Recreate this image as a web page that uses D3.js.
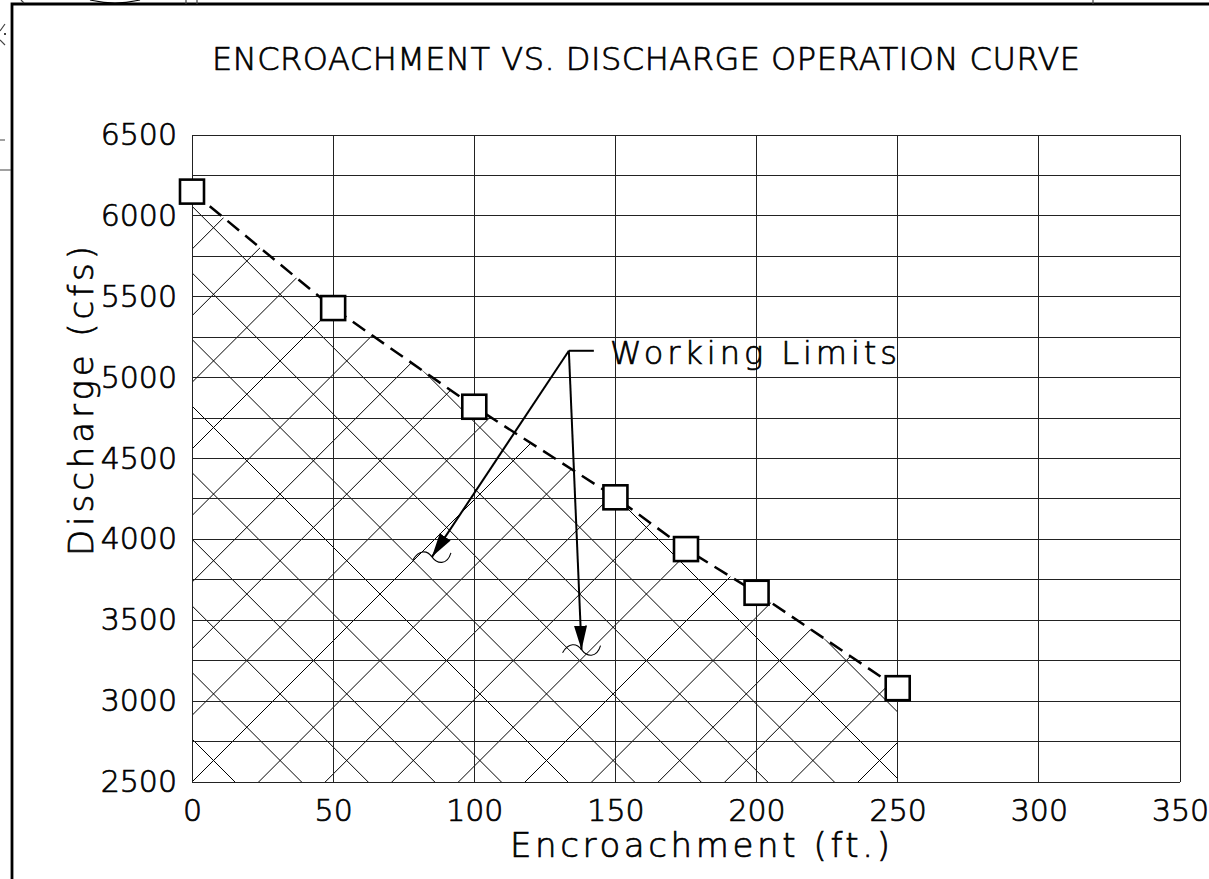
<!DOCTYPE html>
<html>
<head>
<meta charset="utf-8">
<script src="https://cdn.jsdelivr.net/npm/d3@7"></script>
<style>
  body { margin: 0; background: #fff; }
  svg { display: block; }
  text { font-family: "DejaVu Sans", "Liberation Sans", sans-serif; font-weight: 200; fill: #000; stroke: #000; stroke-width: 0.7px; }
</style>
</head>
<body>
<script>
// Encroachment vs discharge operation curve (CAD style sheet)

// data
var encroachment = [0, 50, 100, 150, 175, 200, 250];
var discharge = [6150, 5430, 4820, 4260, 3940, 3670, 3080];

// tick values
var xTicks = [0, 50, 100, 150, 200, 250, 300, 350];
var yTicks = [2500, 3000, 3500, 4000, 4500, 5000, 5500, 6000, 6500];
var yGridLines = d3.range(2500, 6501, 250);

// "Working Limits" callout: elbow point and the two arrow tips (ft, cfs)
var calloutElbow = [133.5, 5166];
var calloutTips = [[85, 3892], [138, 3318]];

var width = 1209;
var height = 879;

var svg = d3.select("body").append("svg")
            .attr("width", width)
            .attr("height", height);

// plot box
var x = d3.scaleLinear().domain([0, 350]).range([192, 1180]);
var y = d3.scaleLinear().domain([2500, 6500]).range([782, 135]);

var points = encroachment.map(function(e, i){ return {x: e, y: discharge[i]}; });

//sheet border and the bits of the neighbouring drawing that poke in
var frame = svg.append("g").attr("fill", "none").attr("stroke", "#000");
frame.append("path").attr("d", "M12,879V4H1209").attr("stroke-width", 2.8);
frame.append("path").attr("d", "M186,0V4M197,0V4M1093,0V4M21,0L24,3").attr("stroke-width", 1.2).attr("stroke", "#444");
frame.append("path").attr("d", "M90,0Q115,6 140,0").attr("stroke-width", 1.2);
frame.append("path").attr("d", "M5,24L0,31M0,40L5,45M0,140H5M0,170H11").attr("stroke-width", 1.2).attr("stroke", "#444");
frame.append("circle").attr("cx", 5).attr("cy", 34).attr("r", 1).attr("fill", "#000").attr("stroke", "none");

//title
svg.append("text")
   .attr("x", 212)
   .attr("y", 70)
   .attr("textLength", 868)
   .attr("lengthAdjust", "spacing")
   .style("font-size", "32px")
   .text("ENCROACHMENT VS. DISCHARGE OPERATION CURVE");

//cross hatch under the curve, clipped with an area shape
var area = d3.area()
             .x(function(d){ return x(d.x); })
             .y0(y(2500))
             .y1(function(d){ return y(d.y); });

svg.append("clipPath").attr("id", "hatchClip")
   .append("path")
   .attr("d", area(points));

var hatchGap = 66.6;
var hatch = svg.append("g")
               .attr("clip-path", "url(#hatchClip)")
               .attr("stroke", "#000")
               .attr("stroke-width", 1)
               .attr("fill", "none");
// "/" lines : x + y = c , "\" lines : x - y = c
d3.range(-2, 22).forEach(function(k){
  var c = 974 - 8 * hatchGap + k * hatchGap;
  hatch.append("line").attr("x1", c - 800).attr("y1", 800).attr("x2", c - 100).attr("y2", 100);
  var c2 = -547 - 2 * hatchGap + k * hatchGap;
  hatch.append("line").attr("x1", c2 + 100).attr("y1", 100).attr("x2", c2 + 800).attr("y2", 800);
});

//grid
var grid = svg.append("g")
              .attr("stroke", "#222")
              .attr("stroke-width", 1)
              .attr("shape-rendering", "crispEdges");

grid.selectAll(".hgrid")
    .data(yGridLines)
    .enter().append("line")
        .attr("class", "hgrid")
        .attr("x1", x(0)).attr("x2", x(350))
        .attr("y1", function(d){ return y(d); })
        .attr("y2", function(d){ return y(d); });

grid.selectAll(".vgrid")
    .data(xTicks)
    .enter().append("line")
        .attr("class", "vgrid")
        .attr("y1", y(2500)).attr("y2", y(6500))
        .attr("x1", function(d){ return x(d); })
        .attr("x2", function(d){ return x(d); });

//tick labels (no axis lines, the grid does that)
var xAxis = svg.append("g")
               .attr("transform", "translate(0," + y(2500) + ")")
               .call(d3.axisBottom(x).tickValues(xTicks).tickFormat(d3.format("d")).tickSize(0).tickPadding(18));
var yAxis = svg.append("g")
               .attr("transform", "translate(" + x(0) + ",0)")
               .call(d3.axisLeft(y).tickValues(yTicks).tickFormat(d3.format("d")).tickSize(0).tickPadding(15));

[xAxis, yAxis].forEach(function(a){
  a.select(".domain").remove();
  a.selectAll("text")
   .attr("fill", "#000")
   .style("font-family", "\"DejaVu Sans\", sans-serif")
   .style("font-size", "30px");
});

//axis titles
svg.append("text")
   .attr("x", 510)
   .attr("y", 857)
   .attr("textLength", 380)
   .attr("lengthAdjust", "spacing")
   .style("font-size", "34px")
   .text("Encroachment (ft.)");

svg.append("text")
   .attr("transform", "translate(93,556) rotate(-90)")
   .attr("textLength", 310)
   .attr("lengthAdjust", "spacing")
   .style("font-size", "34px")
   .text("Discharge (cfs)");

//dashed operation curve + square markers
var line = d3.line()
             .x(function(d){ return x(d.x); })
             .y(function(d){ return y(d.y); });

svg.append("path")
   .attr("d", line(points))
   .attr("fill", "none")
   .attr("stroke", "#000")
   .attr("stroke-width", 2.5)
   .attr("stroke-dasharray", "15 8");

var sq = 24;
svg.selectAll(".marker")
   .data(points)
   .enter().append("rect")
       .attr("class", "marker")
       .attr("x", function(d){ return x(d.x) - sq / 2; })
       .attr("y", function(d){ return y(d.y) - sq / 2; })
       .attr("width", sq)
       .attr("height", sq)
       .attr("fill", "#fff")
       .attr("stroke", "#000")
       .attr("stroke-width", 2.6);

//Working Limits callout
svg.append("defs").append("marker")
   .attr("id", "arrowHead")
   .attr("markerUnits", "userSpaceOnUse")
   .attr("viewBox", "0 -7 24 14")
   .attr("refX", 24).attr("refY", 0)
   .attr("markerWidth", 24).attr("markerHeight", 14)
   .attr("orient", "auto")
   .append("path")
       .attr("d", "M0,-6.5L24,0L0,6.5Z")
       .attr("fill", "#000");

var ex = x(calloutElbow[0]), ey = y(calloutElbow[1]);
svg.append("line")
   .attr("x1", ex).attr("y1", ey).attr("x2", ex + 25).attr("y2", ey)
   .attr("stroke", "#000").attr("stroke-width", 2);

svg.selectAll(".leader")
   .data(calloutTips)
   .enter().append("line")
       .attr("class", "leader")
       .attr("x1", ex).attr("y1", ey)
       .attr("x2", function(d){ return x(d[0]); })
       .attr("y2", function(d){ return y(d[1]); })
       .attr("stroke", "#000")
       .attr("stroke-width", 2)
       .attr("marker-end", "url(#arrowHead)");

// little break marks at each arrow tip
svg.selectAll(".tilde")
   .data(calloutTips)
   .enter().append("path")
       .attr("class", "tilde")
       .attr("transform", function(d){ return "translate(" + x(d[0]) + "," + y(d[1]) + ")"; })
       .attr("d", "M-19,3C-13,-7 -5,-7 0,0C5,7 15,9 19,-4")
       .attr("fill", "none")
       .attr("stroke", "#000")
       .attr("stroke-width", 1.1);

svg.append("text")
   .attr("x", 610)
   .attr("y", 364)
   .attr("textLength", 287)
   .attr("lengthAdjust", "spacing")
   .style("font-size", "32px")
   .text("Working Limits");
</script>
</body>
</html>
